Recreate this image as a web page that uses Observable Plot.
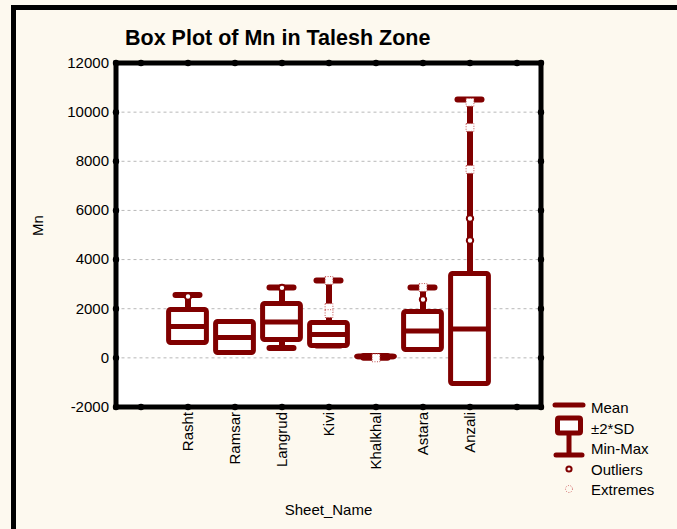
<!DOCTYPE html>
<html>
<head>
<meta charset="utf-8">
<script src="https://cdn.jsdelivr.net/npm/d3@7"></script>
<script src="https://cdn.jsdelivr.net/npm/@observablehq/plot@0.6"></script>
<style>
  html, body { margin: 0; padding: 0; background: #fdf9ef; overflow: hidden; }
  #wrap { position: relative; width: 677px; height: 529px; font-family: "Liberation Sans", Arial, sans-serif; }
  #border { position: absolute; left: 11px; top: 5px; width: 700px; height: 522px; border: 5px solid #000; border-right: none; box-sizing: content-box; }
  #title { position: absolute; left: 125px; top: 26px; font-weight: bold; font-size: 21.5px; color: #000; white-space: nowrap; }
  #chart { position: absolute; left: 0; top: 0; }
  #legend { position: absolute; left: 548px; top: 396px; }
  .lt { position: absolute; left: 43px; font-size: 15px; color: #000; white-space: nowrap; line-height: 1; }
</style>
</head>
<body>
<div id="wrap">
  <div id="border"></div>
  <div id="chart"></div>
  <div id="title">Box Plot of Mn in Talesh Zone</div>
  <div id="legend"></div>
</div>
<script>
// ---- data ----
const categories = ["Rasht", "Ramsar", "Langrud", "Kivi", "Khalkhal", "Astara", "Anzali"];
const means = [1278, 830, 1461, 952, 40, 1095, 1176];
const sds = [336, 316, 367, 234, 10, 387, 1120];
const mins = [700, 250, 400, 500, 0, 400, 100];
const maxs = [2560, 1300, 2865, 3150, 80, 2865, 10510];
const outlierSite = ["Rasht", "Langrud", "Astara", "Anzali", "Anzali"];
const outlierValue = [2500, 2850, 2377, 5674, 4778];
const extremeSite = ["Kivi", "Kivi", "Kivi", "Khalkhal", "Astara", "Anzali", "Anzali", "Anzali"];
const extremeValue = [3150, 2050, 1800, 0, 2865, 10400, 9377, 7668];
const yTicks = [-2000, 0, 2000, 4000, 6000, 8000, 10000, 12000];
const gridTicks = [0, 2000, 4000, 6000, 8000, 10000];
const legendLabels = ["Mean", "±2*SD", "Min-Max", "Outliers", "Extremes"];

const RED = "#800000";
const xDomain = ["", ...categories, " "];

const rows = categories.map((c, i) => ({
  site: c, mean: means[i], lo: means[i] - 2 * sds[i], hi: means[i] + 2 * sds[i], min: mins[i], max: maxs[i]
}));
const outliers = outlierSite.map((s, i) => ({site: s, value: outlierValue[i]}));
const extremes = extremeSite.map((s, i) => ({site: s, value: extremeValue[i]}));

const chart = Plot.plot({
  width: 677,
  height: 529,
  marginLeft: 115.5,
  marginRight: 136.5,
  marginTop: 62.5,
  marginBottom: 122.5,
  style: {fontFamily: "'Liberation Sans', Arial, sans-serif", fontSize: "15px", background: "transparent", color: "#000"},
  x: {type: "band", domain: xDomain, padding: 0},
  y: {domain: [-2000, 12000]},
  marks: [
    Plot.frame({fill: "white", stroke: null}),
    Plot.ruleY(gridTicks, {stroke: "#b8b8b8", strokeDasharray: "3,3", strokeWidth: 1}),
    Plot.ruleX(rows, {x: "site", y1: "min", y2: "max", stroke: RED, strokeWidth: 6}),
    Plot.tickY(rows, {x: "site", y: "max", stroke: RED, strokeWidth: 6, strokeLinecap: "round", insetLeft: 11.5, insetRight: 11.5}),
    Plot.tickY(rows, {x: "site", y: "min", stroke: RED, strokeWidth: 6, strokeLinecap: "round", insetLeft: 11.5, insetRight: 11.5}),
    Plot.barY(rows, {x: "site", y1: "lo", y2: "hi", fill: "white", stroke: RED, strokeWidth: 5, insetLeft: 4.6, insetRight: 4.6, rx: 2}),
    Plot.tickY(rows, {x: "site", y: "mean", stroke: RED, strokeWidth: 5, insetLeft: 4.6, insetRight: 4.6}),
    Plot.dot(outliers, {x: "site", y: "value", r: 3.2, fill: "white", stroke: RED, strokeWidth: 2}),
    Plot.dot(extremes, {x: "site", y: "value", symbol: "square", r: 4.4, fill: "white", stroke: "#c05050", strokeWidth: 1, strokeDasharray: "1,1.5"}),
    Plot.axisY(yTicks, {tickSize: 0, tickPadding: 7, label: null, tickFormat: d => String(d)}),
    Plot.axisX({tickRotate: -90, tickSize: 0, tickPadding: 5, label: null, tickFormat: d => d.trim()}),
    Plot.text(["Sheet_Name"], {frameAnchor: "bottom", dy: 103.5, text: d => d, fontSize: 15, lineAnchor: "middle"}),
    Plot.text(["Mn"], {frameAnchor: "left", dx: -77.5, dy: 1, rotate: -90, text: d => d, fontSize: 15}),
    Plot.frame({stroke: "#000", strokeWidth: 5}),
    Plot.dot(yTicks, {y: d => d, frameAnchor: "left", r: 3.2, fill: "#000"}),
    Plot.dot(yTicks, {y: d => d, frameAnchor: "right", r: 3.2, fill: "#000"}),
    Plot.dot(xDomain, {x: d => d, frameAnchor: "top", r: 3.2, fill: "#000"}),
    Plot.dot(xDomain, {x: d => d, frameAnchor: "bottom", r: 3.2, fill: "#000"})
  ]
});
document.getElementById("chart").appendChild(chart);

// ---- legend ----
const lg = document.getElementById("legend");
const rowY = [12, 32.5, 53, 74, 94];
const icon = `<svg width="45" height="110" style="position:absolute;left:0;top:0" xmlns="http://www.w3.org/2000/svg">
  <line x1="7" x2="35" y1="9" y2="9" stroke="${RED}" stroke-width="5" stroke-linecap="round"/>
  <line x1="21" x2="21" y1="38" y2="58" stroke="${RED}" stroke-width="5"/>
  <line x1="8" x2="34" y1="59" y2="59" stroke="${RED}" stroke-width="5" stroke-linecap="round"/>
  <rect x="9.5" y="22" width="23" height="15" fill="white" stroke="${RED}" stroke-width="5" rx="1.5"/>
  <circle cx="21" cy="73" r="2.6" fill="white" stroke="${RED}" stroke-width="2"/>
  <circle cx="21" cy="93" r="3.5" fill="none" stroke="#d06060" stroke-width="1" stroke-dasharray="1,1.5"/>
</svg>`;
lg.innerHTML = icon + legendLabels.map((t, i) =>
  `<div class="lt" style="top:${rowY[i] - 8}px">${t}</div>`).join("");
</script>
</body>
</html>
